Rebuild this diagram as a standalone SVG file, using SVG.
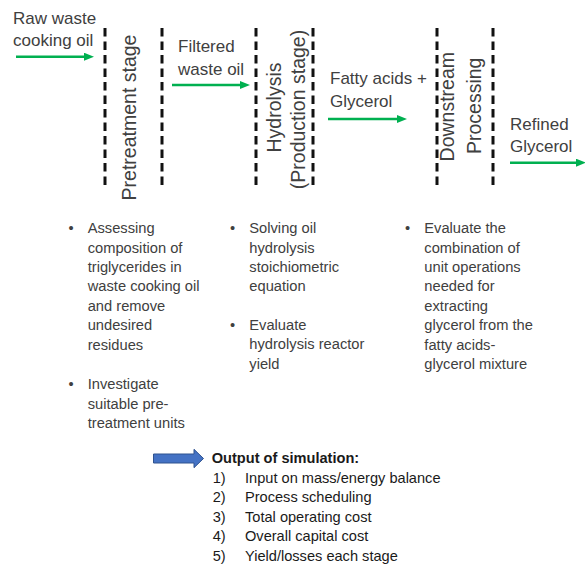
<svg xmlns="http://www.w3.org/2000/svg" width="585" height="564" viewBox="0 0 585 564">
<defs>
<style>
.lbl{font-family:"Liberation Sans",Arial,sans-serif;font-size:17px;fill:#404040}
.vlb{font-family:"Liberation Sans",Arial,sans-serif;font-size:19.5px;fill:#404040;text-anchor:middle}
.bul{font-family:"Liberation Sans",Arial,sans-serif;font-size:14.7px;fill:#404040}
.out{font-family:"Liberation Sans",Arial,sans-serif;font-size:14.6px;fill:#1a1a1a}
.dash{stroke:#111;stroke-width:3;stroke-dasharray:8.5 5;fill:none}
.flow{stroke:#00B050;stroke-width:2.5;fill:none;marker-end:url(#ah)}
</style>
<marker id="ah" markerUnits="userSpaceOnUse" viewBox="0 0 10 8" refX="2" refY="4" markerWidth="10" markerHeight="8" orient="auto">
<path d="M0,0 L10,4 L0,8 z" fill="#00B050"/>
</marker>
</defs>
<rect width="585" height="564" fill="#fff"/>

<g id="boundaries">
<line class="dash" x1="105" y1="28" x2="105" y2="190"/>
<line class="dash" x1="162" y1="28" x2="162" y2="190"/>
<line class="dash" x1="256" y1="28" x2="256" y2="190"/>
<line class="dash" x1="313" y1="28" x2="313" y2="190"/>
<line class="dash" x1="437" y1="28" x2="437" y2="190"/>
<line class="dash" x1="493" y1="28" x2="493" y2="190"/>
</g>

<g id="connectors">
<line class="flow" x1="16" y1="56.7" x2="86" y2="56.7"/>
<line class="flow" x1="172" y1="85" x2="242" y2="85"/>
<line class="flow" x1="328" y1="119" x2="399" y2="119"/>
<line class="flow" x1="510" y1="162.7" x2="578" y2="162.7"/>
</g>

<g id="stream-raw">
<text class="lbl" x="13" y="24">Raw waste</text>
<text class="lbl" x="13" y="45.7">cooking oil</text>
</g>
<g id="stage-pretreatment">
<text class="vlb" transform="translate(136,117.5) rotate(-90)">Pretreatment stage</text>
</g>
<g id="stream-filtered">
<text class="lbl" x="178" y="52">Filtered</text>
<text class="lbl" x="178" y="74.5">waste oil</text>
</g>
<g id="stage-hydrolysis">
<text class="vlb" transform="translate(280.5,107.5) rotate(-90)">Hydrolysis</text>
<text class="vlb" transform="translate(305,109.5) rotate(-90)">(Production stage)</text>
</g>
<g id="stream-fatty">
<text class="lbl" x="330" y="84">Fatty acids +</text>
<text class="lbl" x="330" y="106.5">Glycerol</text>
</g>
<g id="stage-downstream">
<text class="vlb" transform="translate(454,106.7) rotate(-90)">Downstream</text>
<text class="vlb" transform="translate(480.7,105.8) rotate(-90)">Processing</text>
</g>
<g id="stream-refined">
<text class="lbl" x="510" y="130">Refined</text>
<text class="lbl" x="510" y="152">Glycerol</text>
</g>

<g id="notes-pretreatment" class="bul">
<text x="68.5" y="233.3">•</text>
<text x="87.7" y="233.3">Assessing</text>
<text x="87.7" y="252.7">composition of</text>
<text x="87.7" y="272">triglycerides in</text>
<text x="87.7" y="291.4">waste cooking oil</text>
<text x="87.7" y="310.8">and remove</text>
<text x="87.7" y="330.2">undesired</text>
<text x="87.7" y="349.6">residues</text>
<text x="68.5" y="389.3">•</text>
<text x="87.7" y="389.3">Investigate</text>
<text x="87.7" y="408.7">suitable pre-</text>
<text x="87.7" y="428.1">treatment units</text>
</g>

<g id="notes-hydrolysis" class="bul">
<text x="230" y="233.3">•</text>
<text x="249.3" y="233.3">Solving oil</text>
<text x="249.3" y="252.7">hydrolysis</text>
<text x="249.3" y="272">stoichiometric</text>
<text x="249.3" y="291.4">equation</text>
<text x="230" y="330">•</text>
<text x="249.3" y="330">Evaluate</text>
<text x="249.3" y="349.4">hydrolysis reactor</text>
<text x="249.3" y="368.8">yield</text>
</g>

<g id="notes-downstream" class="bul">
<text x="405" y="233.3">•</text>
<text x="424.3" y="233.3">Evaluate the</text>
<text x="424.3" y="252.7">combination of</text>
<text x="424.3" y="272">unit operations</text>
<text x="424.3" y="291.4">needed for</text>
<text x="424.3" y="310.8">extracting</text>
<text x="424.3" y="330.2">glycerol from the</text>
<text x="424.3" y="349.6">fatty acids-</text>
<text x="424.3" y="369">glycerol mixture</text>
</g>

<g id="output">
<polygon points="153.5,454 194,454 194,449.3 203.5,458.5 194,467.7 194,463 153.5,463" fill="#4472C4" stroke="#2F528F" stroke-width="1"/>
<text class="out" x="211.7" y="463" font-weight="bold">Output of simulation:</text>
<text class="out" x="212.7" y="482.5">1)</text><text class="out" x="245" y="482.5">Input on mass/energy balance</text>
<text class="out" x="212.7" y="502">2)</text><text class="out" x="245" y="502">Process scheduling</text>
<text class="out" x="212.7" y="521.5">3)</text><text class="out" x="245" y="521.5">Total operating cost</text>
<text class="out" x="212.7" y="541">4)</text><text class="out" x="245" y="541">Overall capital cost</text>
<text class="out" x="212.7" y="560.5">5)</text><text class="out" x="245" y="560.5">Yield/losses each stage</text>
</g>
</svg>
